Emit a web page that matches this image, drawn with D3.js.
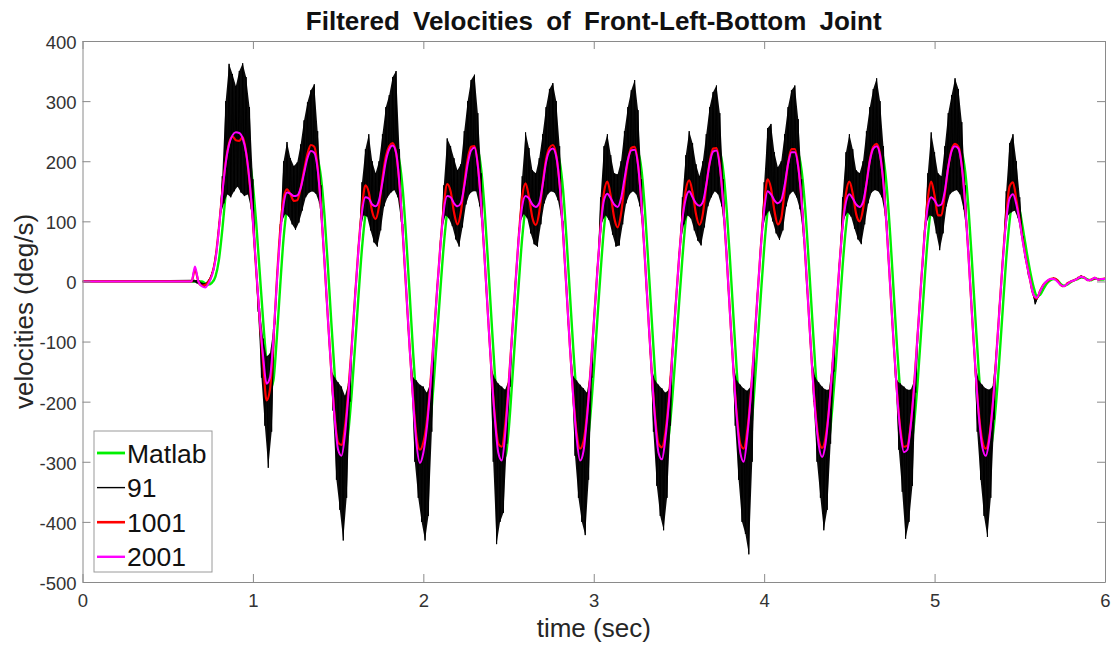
<!DOCTYPE html>
<html>
<head>
<meta charset="utf-8">
<script src="https://cdn.jsdelivr.net/npm/d3@7"></script>
<style>
  body { margin: 0; background: #fff; }
  svg { display: block; }
  text { font-family: "Liberation Sans", Arial, Helvetica, sans-serif; }
</style>
</head>
<body>
<svg id="chart" width="1115" height="650"></svg>
<script>
// Joint velocity traces (deg/s). Smooth filters are sampled every 20 ms from 0.60 s,
// the 91-tap filter output every 10 ms from 0.66 s. Before that the joint is at rest.
const restTime = 0;
const restVelocity = 0;
const smoothStart = 0.60, smoothStep = 0.02;
const noisyStart = 0.66, noisyStep = 0.01;

const velMatlab = [
  0, 0, 0, 0, 0, 0, -3, -5, -2, 8,
  35, 85, 145, 196, 228, 242, 246, 244, 232, 205,
  160, 95, 15, -65, -135, -180, -165, -95, -8, 72,
  122, 142, 143, 140, 145, 165, 192, 212, 218, 205,
  172, 110, 25, -68, -155, -232, -280, -288, -250, -185,
  -105, -22, 55, 110, 135, 135, 128, 128, 142, 172,
  205, 222, 222, 200, 150, 70, -22, -118, -203, -270,
  -298, -280, -238, -172, -94, -14, 60, 115, 138, 136,
  128, 128, 138, 165, 200, 220, 218, 185, 118, 30,
  -64, -155, -232, -284, -292, -250, -172, -88, -4, 72,
  122, 140, 136, 127, 126, 135, 165, 200, 218, 218,
  200, 152, 72, -20, -112, -196, -262, -294, -278, -224,
  -150, -68, 15, 88, 132, 143, 136, 127, 126, 142,
  174, 204, 218, 214, 186, 120, 32, -62, -154, -232,
  -284, -292, -258, -198, -122, -40, 38, 102, 136, 146,
  138, 129, 128, 138, 166, 198, 216, 214, 184, 120,
  34, -60, -152, -230, -284, -296, -256, -190, -110, -25,
  55, 116, 145, 142, 133, 130, 138, 164, 196, 214,
  212, 184, 124, 40, -52, -142, -220, -272, -290, -266,
  -210, -140, -58, 24, 90, 130, 142, 136, 127, 126,
  136, 166, 202, 220, 222, 204, 155, 76, -18, -110,
  -192, -254, -284, -276, -236, -170, -88, -4, 72, 122,
  138, 133, 127, 132, 155, 192, 216, 222, 214, 182,
  118, 30, -64, -152, -228, -276, -288, -260, -205, -130,
  -46, 36, 100, 138, 140, 118, 85, 50, 18, -8,
  -24, -22, -12, -3, 2, 4, 2, -4, -7, -5,
  -1, 2, 4, 7, 6, 3, 2, 5, 4, 3,
  4
];

const vel91 = [
  2, -3, 3, -6,
  -2, -10, -3, -7, 3, 1, 16, 18, 44, 55,
  96, 110, 175, 130, 300, 145, 362, 140, 345, 150,
  325, 158, 350, 148, 363, 142, 340, 145, 290, 120,
  170, 40, 30, -50, -45, -160, -95, -240, -125, -310,
  -120, -250, -80, -70, 8, 38, 95, 100, 200, 112,
  232, 108, 205, 95, 192, 86, 198, 98, 228, 118,
  268, 140, 298, 148, 318, 150, 328, 146, 250, 130,
  160, 70, 40, -22, -60, -112, -148, -215, -160, -330,
  -168, -380, -175, -431, -190, -360, -170, -200, -100, -70,
  -15, 12, 65, 85, 165, 110, 220, 108, 245, 85,
  200, 65, 180, 58, 200, 85, 245, 125, 290, 140,
  310, 148, 340, 152, 350, 140, 220, 100, 95, 22,
  -10, -75, -105, -165, -160, -300, -165, -360, -172, -400,
  -175, -431, -185, -390, -170, -250, -90, -65, -10, 15,
  68, 88, 160, 110, 238, 105, 225, 92, 205, 70,
  185, 58, 195, 90, 250, 128, 300, 145, 335, 150,
  344, 150, 280, 125, 180, 75, 45, -18, -55, -113,
  -145, -300, -162, -437, -170, -400, -175, -385, -180, -270,
  -165, -175, -85, -55, 0, 28, 85, 100, 175, 112,
  248, 105, 222, 80, 185, 62, 180, 58, 205, 95,
  245, 130, 290, 145, 320, 150, 330, 148, 300, 135,
  225, 105, 100, 25, -5, -70, -100, -160, -158, -290,
  -165, -360, -172, -400, -178, -422, -185, -330, -150, -160,
  -62, -35, 22, 45, 140, 100, 225, 110, 245, 102,
  210, 78, 180, 58, 178, 60, 200, 95, 250, 130,
  290, 145, 318, 150, 335, 145, 285, 125, 170, 78,
  45, -20, -50, -115, -145, -250, -165, -340, -172, -390,
  -178, -414, -185, -360, -180, -240, -115, -92, -35, -10,
  45, 65, 140, 95, 210, 110, 250, 105, 230, 85,
  195, 68, 175, 60, 200, 90, 245, 125, 290, 140,
  315, 150, 326, 145, 280, 125, 170, 78, 50, -15,
  -48, -112, -140, -240, -165, -330, -172, -400, -178, -420,
  -182, -454, -175, -300, -105, -85, -20, 8, 65, 85,
  165, 110, 255, 118, 262, 100, 215, 80, 190, 69,
  200, 85, 245, 125, 290, 145, 318, 150, 326, 140,
  270, 120, 170, 75, 55, -10, -38, -100, -130, -200,
  -160, -300, -168, -360, -175, -414, -180, -380, -180, -270,
  -135, -150, -55, -30, 28, 50, 140, 105, 215, 115,
  245, 108, 220, 88, 185, 70, 180, 62, 200, 95,
  250, 130, 290, 148, 320, 152, 338, 150, 300, 140,
  225, 110, 100, 30, 0, -65, -98, -160, -165, -280,
  -170, -350, -175, -428, -180, -400, -180, -340, -165, -185,
  -82, -60, 0, 25, 85, 95, 180, 110, 248, 108,
  215, 80, 180, 52, 175, 80, 225, 125, 280, 145,
  310, 150, 338, 152, 320, 145, 265, 120, 160, 75,
  50, -15, -50, -112, -140, -250, -165, -330, -172, -390,
  -178, -425, -180, -360, -175, -230, -122, -95, -40, -15,
  45, 65, 150, 110, 230, 115, 245, 118, 200, 105,
  140, 75, 75, 40, 36, 10, 6, -16, -20, -38,
  -30, -26, -14, -13, -4, -3, 2, 1, 5, 4,
  6, 3, 3, -3, -5, -9, -7, -6, -2, -2,
  1, 1, 3, 3, 7, 5, 10, 6, 7, 3,
  3, 1, 4, 3, 7, 4, 3, 3, 5, 3,
  5
];

const vel1001 = [
  0, 0, 0, 20, 0, -7, -6, 0, 12, 38,
  88, 148, 198, 230, 241, 235, 234, 240, 215, 165,
  100, 15, -65, -135, -198, -180, -100, 0, 85, 138,
  153, 145, 134, 135, 155, 185, 212, 227, 224, 190,
  120, 32, -62, -150, -225, -268, -272, -242, -182, -105,
  -22, 58, 122, 160, 148, 116, 104, 125, 172, 208,
  225, 230, 214, 160, 76, -18, -112, -195, -258, -280,
  -268, -235, -175, -98, -17, 60, 125, 162, 150, 115,
  95, 115, 162, 203, 224, 225, 193, 125, 36, -60,
  -150, -225, -270, -275, -240, -173, -90, -6, 75, 140,
  163, 140, 106, 94, 115, 162, 203, 222, 227, 210,
  160, 80, -14, -108, -192, -253, -278, -266, -222, -152,
  -70, 13, 90, 148, 166, 142, 106, 90, 112, 160,
  200, 222, 224, 195, 128, 38, -58, -150, -225, -270,
  -276, -252, -198, -123, -42, 37, 105, 152, 168, 148,
  112, 94, 112, 158, 198, 221, 222, 193, 128, 40,
  -56, -148, -223, -270, -278, -250, -192, -112, -27, 56,
  128, 170, 155, 118, 95, 105, 150, 196, 220, 220,
  192, 132, 48, -45, -137, -214, -263, -277, -260, -213,
  -143, -62, 20, 93, 146, 166, 146, 112, 100, 120,
  162, 202, 224, 229, 212, 163, 84, -10, -104, -186,
  -247, -275, -273, -238, -172, -90, -6, 74, 137, 166,
  143, 110, 110, 145, 190, 219, 229, 224, 192, 126,
  38, -58, -147, -220, -265, -278, -260, -208, -132, -48,
  35, 108, 158, 165, 136, 100, 64, 31, 3, -22,
  -28, -15, -5, 0, 4, 5, 2, -6, -8, -3,
  0, 2, 5, 8, 6, 2, 3, 6, 3, 4,
  5
];

const vel2001 = [
  0, 0, 0, 25, 0, -8, -10, -3, 10, 35,
  85, 145, 196, 228, 243, 248, 247, 238, 214, 168,
  100, 18, -62, -125, -170, -160, -95, -5, 75, 128,
  148, 146, 142, 143, 155, 180, 205, 217, 214, 186,
  120, 32, -62, -150, -228, -280, -290, -255, -190, -110,
  -25, 55, 115, 140, 138, 128, 125, 135, 165, 200,
  220, 226, 214, 162, 78, -16, -112, -198, -270, -302,
  -285, -245, -180, -100, -18, 58, 118, 142, 140, 130,
  125, 130, 158, 195, 218, 223, 192, 124, 35, -60,
  -152, -230, -285, -298, -255, -178, -92, -8, 72, 125,
  142, 138, 128, 124, 130, 160, 198, 217, 221, 208,
  160, 80, -14, -108, -194, -262, -298, -282, -228, -155,
  -72, 12, 88, 135, 146, 138, 128, 124, 138, 170,
  202, 218, 219, 193, 128, 38, -58, -150, -230, -285,
  -296, -262, -205, -128, -44, 36, 102, 138, 150, 140,
  130, 126, 132, 160, 196, 216, 218, 190, 127, 40,
  -56, -150, -228, -285, -300, -260, -196, -115, -28, 55,
  118, 150, 145, 135, 130, 135, 160, 195, 215, 215,
  190, 132, 48, -45, -138, -218, -272, -292, -270, -215,
  -145, -63, 20, 90, 132, 145, 138, 128, 124, 132,
  162, 200, 221, 225, 210, 162, 84, -10, -104, -188,
  -252, -284, -280, -240, -175, -92, -7, 72, 124, 140,
  135, 126, 128, 150, 190, 217, 225, 221, 190, 126,
  38, -58, -148, -225, -275, -290, -265, -210, -135, -50,
  33, 100, 138, 145, 128, 98, 62, 30, 3, -22,
  -27, -16, -5, 1, 4, 4, 0, -6, -8, -4,
  0, 2, 5, 8, 6, 2, 3, 6, 3, 4,
  4
];

const timeTicks = [0, 1, 2, 3, 4, 5, 6];
const velocityTicks = [-500, -400, -300, -200, -100, 0, 100, 200, 300, 400];
const seriesLabels = ["Matlab", "91", "1001", "2001"];

// ---- drawing ----
const svg = d3.select("#chart");
const W = 1115, H = 650;
const plot = { left: 82.5, right: 1105, top: 41, bottom: 582 };
const axisColor = "#8a8a8a";
const tickTextColor = "#333";

const x = d3.scaleLinear().domain([0, 6]).range([plot.left, plot.right]);
const y = d3.scaleLinear().domain([-500, 400]).range([plot.bottom, plot.top]);

svg.append("rect").attr("width", W).attr("height", H).attr("fill", "#fff");

svg.append("defs").append("clipPath").attr("id", "plotClip")
  .append("rect")
  .attr("x", plot.left).attr("y", plot.top)
  .attr("width", plot.right - plot.left).attr("height", plot.bottom - plot.top);

function toPoints(values, start, step) {
  return [[restTime, restVelocity]].concat(values.map((v, i) => [start + i * step, v]));
}

const styles = {
  "Matlab": { color: "#00f000", width: 2.4, curve: d3.curveMonotoneX },
  "91":     { color: "#000000", width: 1.0, curve: d3.curveLinear },
  "1001":   { color: "#ff0000", width: 2.2, curve: d3.curveMonotoneX },
  "2001":   { color: "#ff00ff", width: 2.0, curve: d3.curveMonotoneX }
};

const series = [
  { name: "Matlab", pts: toPoints(velMatlab, smoothStart, smoothStep) },
  { name: "91",     pts: toPoints(vel91, noisyStart, noisyStep) },
  { name: "1001",   pts: toPoints(vel1001, smoothStart, smoothStep) },
  { name: "2001",   pts: toPoints(vel2001, smoothStart, smoothStep) }
];

const lines = svg.append("g").attr("clip-path", "url(#plotClip)");
series.forEach(s => {
  const st = styles[s.name];
  if (s.name === "91") {
    // the raw 91-tap output oscillates faster than the pixel grid, so the space
    // swept between its successive peaks and valleys is shaded as one band
    const p = s.pts;
    const band = p.map((d, i) => {
      const prev = p[Math.max(0, i - 1)][1], next = p[Math.min(p.length - 1, i + 1)][1];
      const mid = (prev + next) / 2;
      return { t: d[0], lo: Math.min(d[1], mid), hi: Math.max(d[1], mid) };
    });
    lines.append("path")
      .datum(band)
      .attr("fill", "#0a0a0a")
      .attr("stroke", "none")
      .attr("d", d3.area().x(d => x(d.t)).y0(d => y(d.lo)).y1(d => y(d.hi)));
  }
  const gen = d3.line().x(d => x(d[0])).y(d => y(d[1])).curve(st.curve);
  lines.append("path")
    .datum(s.pts)
    .attr("fill", "none")
    .attr("stroke", st.color)
    .attr("stroke-width", st.width)
    .attr("stroke-linejoin", "round")
    .attr("d", gen);
});

// axes box with inward ticks
const tickFont = 18.5;
const plainNumber = d => String(d);
function styleAxis(g, showLabels) {
  g.selectAll(".domain").attr("stroke", axisColor).attr("stroke-width", 1);
  g.selectAll(".tick line").attr("stroke", axisColor).attr("stroke-width", 1);
  g.selectAll(".tick text")
    .attr("fill", tickTextColor)
    .style("font-size", tickFont + "px")
    .style("display", showLabels ? null : "none");
}

svg.append("g")
  .attr("transform", `translate(0,${plot.bottom})`)
  .call(d3.axisBottom(x).tickValues(timeTicks).tickFormat(plainNumber)
    .tickSizeInner(-8).tickSizeOuter(0).tickPadding(12))
  .call(g => styleAxis(g, true));

svg.append("g")
  .attr("transform", `translate(0,${plot.top})`)
  .call(d3.axisTop(x).tickValues(timeTicks).tickSizeInner(-8).tickSizeOuter(0))
  .call(g => styleAxis(g, false));

svg.append("g")
  .attr("transform", `translate(${plot.left},0)`)
  .call(d3.axisLeft(y).tickValues(velocityTicks).tickFormat(plainNumber)
    .tickSizeInner(-8).tickSizeOuter(0).tickPadding(6))
  .call(g => styleAxis(g, true))
  .call(g => g.selectAll(".tick text").attr("dy", "0.4em"));

svg.append("g")
  .attr("transform", `translate(${plot.right},0)`)
  .call(d3.axisRight(y).tickValues(velocityTicks).tickSizeInner(-8).tickSizeOuter(0))
  .call(g => styleAxis(g, false));

// title and axis labels
svg.append("text")
  .attr("x", (plot.left + plot.right) / 2).attr("y", 30)
  .attr("text-anchor", "middle")
  .style("font-size", "26px").style("font-weight", "bold")
  .style("word-spacing", "6px")
  .attr("fill", "#111")
  .text("Filtered Velocities of Front-Left-Bottom Joint");

svg.append("text")
  .attr("x", (plot.left + plot.right) / 2).attr("y", 637)
  .attr("text-anchor", "middle")
  .style("font-size", "26px")
  .attr("fill", "#262626")
  .text("time (sec)");

svg.append("text")
  .attr("transform", `translate(33,${(plot.top + plot.bottom) / 2}) rotate(-90)`)
  .attr("text-anchor", "middle")
  .style("font-size", "26px")
  .attr("fill", "#262626")
  .text("velocities (deg/s)");

// legend
const legend = svg.append("g").attr("transform", "translate(94,431)");
legend.append("rect")
  .attr("width", 118).attr("height", 141)
  .attr("fill", "#fff").attr("stroke", "#9a9a9a").attr("stroke-width", 1);
seriesLabels.forEach((name, i) => {
  const rowY = 22 + i * 34.6;
  const st = styles[name];
  legend.append("line")
    .attr("x1", 3).attr("x2", 31).attr("y1", rowY).attr("y2", rowY)
    .attr("stroke", st.color).attr("stroke-width", st.width + 0.4);
  legend.append("text")
    .attr("x", 33).attr("y", rowY).attr("dy", "0.36em")
    .style("font-size", "26.5px")
    .attr("fill", "#111")
    .text(name);
});
</script>
</body>
</html>
